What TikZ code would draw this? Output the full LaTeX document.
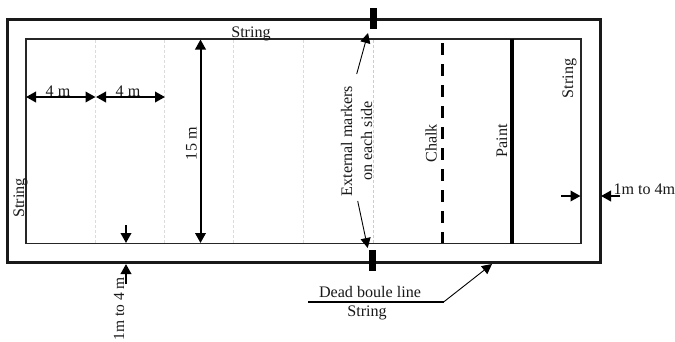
\documentclass[tikz,border=0pt]{standalone}
\usepackage{fontspec}
\setmainfont{Liberation Serif}
\usetikzlibrary{arrows.meta}
\tikzset{
  x=1pt,y=-1pt,
  lbl/.style={font=\fontsize{16.1}{17}\selectfont,inner sep=0pt,anchor=base,text=black!90},
  vlbl/.style={lbl,rotate=90},
  outerline/.style={line width=3pt,draw=black!90},
  innerline/.style={line width=1.9pt,draw=black!85},
  guide/.style={line width=0.6pt,draw=black!14,dash pattern=on 3pt off 2pt},
  chalkline/.style={line width=3pt,dash pattern=on 11.5pt off 9.5pt},
  paintline/.style={line width=4pt},
  marker/.style={line width=7pt},
  dim/.style={line width=2pt,-{Triangle[length=10pt,width=10.5pt]}},
  dimboth/.style={line width=2pt,{Triangle[length=10pt,width=10.5pt]}-{Triangle[length=10pt,width=10.5pt]}},
  lead/.style={line width=0.9pt,-{Triangle[length=10pt,width=10pt]}}
}
\begin{document}
\begin{tikzpicture}
\useasboundingbox (0,0) rectangle (675,341);
% guide lines
\foreach \x in {95.5,164.5,233.5,303.5}{\draw[guide] (\x,40) -- (\x,243);}
\draw[guide,line width=1pt,draw=black!20] (373.3,40) -- (373.3,243);
% string rectangles
\draw[outerline] (7,19.7) rectangle (600.5,262.7);
\draw[innerline] (26,39.3) rectangle (581,243.5);
% chalk and paint
\coordinate (chalkT) at (442.3,43);
\coordinate (chalkB) at (442.3,242.5);
\draw[chalkline] (chalkT) -- (chalkB);
\coordinate (paintT) at (512,38.5);
\coordinate (paintB) at (512,244);
\draw[paintline] (paintT) -- (paintB);
% markers
\coordinate (mT1) at (373.5,8);
\coordinate (mT2) at (373.5,29);
\coordinate (mB1) at (372.7,250);
\coordinate (mB2) at (372.7,270.7);
\draw[marker] (mT1) -- (mT2);
\draw[marker] (mB1) -- (mB2);
% dimensions
\coordinate (a0) at (26,97);
\coordinate (a1) at (95.5,97);
\coordinate (a2) at (96,97);
\coordinate (a3) at (165,97);
\draw[dimboth] (a0) -- (a1);
\draw[dimboth] (a2) -- (a3);
\coordinate (h0) at (200.5,39.5);
\coordinate (h1) at (200.5,243);
\draw[dimboth] (h0) -- (h1);
\coordinate (d0) at (126,225);
\coordinate (d1) at (126,243);
\draw[dim] (d0) -- (d1);
\coordinate (u0) at (126,284);
\coordinate (u1) at (126,264);
\draw[dim] (u0) -- (u1);
\coordinate (r0) at (561,196);
\coordinate (r1) at (580.5,196);
\draw[dim] (r0) -- (r1);
\coordinate (l0) at (620,196);
\coordinate (l1) at (601,196);
\draw[dim] (l0) -- (l1);
% leaders
\coordinate (e0) at (356.7,74);
\coordinate (e1) at (368,33);
\draw[lead] (e0) -- (e1);
\coordinate (f0) at (357.7,201);
\coordinate (f1) at (367.7,248);
\draw[lead] (f0) -- (f1);
\coordinate (g0) at (308,301.7);
\coordinate (g1) at (444,301.7);
\coordinate (g2) at (492,264);
\draw[line width=1.6pt] (g0) -- (g1);
\draw[lead] (g1) -- (g2);
% labels
\node[lbl] (strTop) at (251,37) {String};
\node[lbl] (fourA) at (58,96) {4 m};
\node[lbl] (fourB) at (128,96) {4 m};
\node[vlbl] (fifteen) at (196.7,143.7) {15 m};
\node[vlbl] (strLeft) at (24,198) {String};
\node[vlbl,font=\fontsize{15.5}{17}\selectfont] (oneB) at (124,308.7) {1m to 4 m};
\node[vlbl] (extA) at (352,141) {External markers};
\node[vlbl] (extB) at (372,141) {on each side};
\node[vlbl] (chalk) at (436.7,143.5) {Chalk};
\node[vlbl] (paint) at (507,141) {Paint};
\node[vlbl] (strRight) at (573,78.5) {String};
\node[lbl,anchor=base west] (oneR) at (613.3,194) {1m to 4m};
\node[lbl] (dead) at (370,297.3) {Dead boule line};
\node[lbl] (strDead) at (367,316) {String};
\end{tikzpicture}
\end{document}
